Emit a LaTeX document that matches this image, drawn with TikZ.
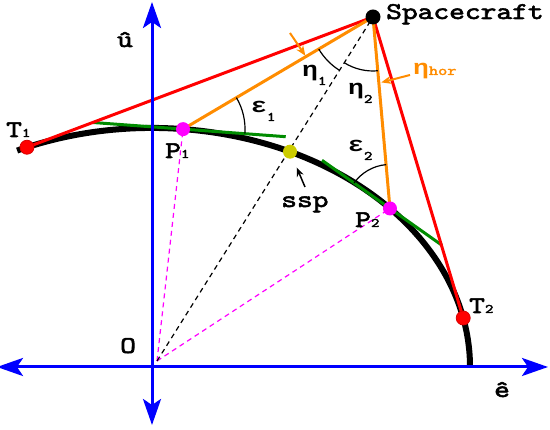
\documentclass[tikz,border=0pt]{standalone}
\usepackage{fontspec}
\usepackage{graphicx}
\usetikzlibrary{calc,arrows.meta}
\newfontfamily\grkfont{Liberation Mono}
\newfontfamily\labfont{lmmono10-regular.otf}[FakeBold=2.2]
\definecolor{orng}{RGB}{255,140,0}
\definecolor{grn}{RGB}{0,140,0}
\definecolor{mag}{RGB}{255,0,255}
\definecolor{olv}{RGB}{204,204,0}
\definecolor{axblue}{RGB}{0,0,255}
\newcommand\lbl[1]{\scalebox{1.25}[1]{\fontsize{24}{24}\selectfont\labfont #1}}
\newcommand\gk[1]{{\grkfont\bfseries\fontsize{21}{21}\selectfont #1}}
\newcommand\subd[1]{{\fontsize{13}{13}\selectfont #1}}
\begin{document}
\begin{tikzpicture}[x=1pt,y=1pt,
  rim/.style={line width=6pt, black},
  tang/.style={line width=3pt, grn},
  los/.style={line width=3pt, red},
  sight/.style={line width=3pt, orng, line join=round},
  dsh/.style={line width=1.2pt, dash pattern=on 5pt off 4pt},
  angarc/.style={line width=1.2pt, black},
  axline/.style={line width=3pt, axblue, {Stealth[length=26pt,width=18pt,inset=6pt]}-{Stealth[length=26pt,width=18pt,inset=6pt]}},
  dotnode/.style={circle, inner sep=0pt, minimum size=14pt},
  lab/.style={inner sep=0pt, anchor=base west},
  pointer/.style={line width=2pt, orng, -{Stealth[length=10pt,width=8pt]}}]
\useasboundingbox (0,0) rectangle (550,430);
% key points
\coordinate (O) at (152,63);
\coordinate (Oc) at (157,69);
\coordinate (S) at (373,413);
\coordinate (C0) at ($(O)+(115.1:318pt and 239pt)$);
\coordinate (T1) at ($(O)+(113.15:318pt and 239pt)$);
\coordinate (P1) at ($(O)+(84.4:318pt and 239pt)$);
\coordinate (SSP) at ($(O)+(64.28:318pt and 239pt)$);
\coordinate (P2) at ($(O)+(41.55:318pt and 239pt)$);
\coordinate (T2) at ($(O)+(11.83:318pt and 239pt)$);
\coordinate (G1a) at (93.27,307.48);
\coordinate (G1b) at (285.73,293.29);
\coordinate (G2a) at (322,269.7);
\coordinate (G2b) at (442,184.7);
% body limb
\draw[rim] (C0) arc[start angle=115.1,end angle=0,x radius=318pt,y radius=239pt];
% tangents
\draw[tang] (G1a) -- (G1b);
\draw[tang] (G2a) -- (G2b);
% dashed lines
\draw[dsh, mag] (Oc) -- (P1);
\draw[dsh, mag] (Oc) -- (P2);
\draw[dsh, black] (Oc) -- (S);
% lines of sight
\draw[los] (T1) -- (S) -- (T2);
\draw[sight] (P1) -- (S) -- (P2);
% angle arcs
\draw[angarc] ($(P1)+(-4.22:62pt)$) arc[start angle=-4.22,end angle=30.56,radius=62pt];
\draw[angarc] ($(P2)+(95.06:44pt)$) arc[start angle=95.06,end angle=144.69,radius=44pt];
\draw[angarc] ($(S)+(210.56:63pt)$) arc[start angle=210.56,end angle=237.87,radius=63pt];
\draw[angarc] ($(S)+(237.87:54pt)$) arc[start angle=237.87,end angle=275.06,radius=54pt];
% axes
\coordinate (xl) at (-3,63);
\coordinate (xr) at (548,63);
\coordinate (yb) at (152,5);
\coordinate (yt) at (152,428);
\draw[axline] (xl) -- (xr);
\draw[axline] (yb) -- (yt);
% dots
\node[dotnode, fill=black, minimum size=15pt] (Sd) at (S) {};
\node[dotnode, fill=red, draw=red!85!black, line width=0.8pt] (T1d) at (T1) {};
\node[dotnode, fill=red, draw=red!85!black, line width=0.8pt] (T2d) at (T2) {};
\node[dotnode, fill=mag] (P1d) at (P1) {};
\node[dotnode, fill=mag] (P2d) at (P2) {};
\node[dotnode, fill=olv] (sspd) at (SSP) {};
% pointers
\coordinate (aA) at (290,397);
\coordinate (aB) at (410,355);
\coordinate (sA) at (305,243);
\draw[pointer, shorten >=1pt] (aA) -- ($(S)!0.353!(P1)$);
\draw[pointer, shorten >=2.5pt] (aB) -- ($(S)!0.345!(P2)$);
\draw[line width=1.5pt, black, -{Stealth[length=9pt,width=7pt]}, shorten >=10pt] (sA) -- (sspd);
% labels
\node[lab] (lS) at (386,411) {\lbl{Spacecraft}};
\node[inner sep=0pt, anchor=base] (lu) at (125,383) {\lbl{û}};
\node[lab] (lT1) at (6,293) {\lbl{T\subd{1}}};
\node[lab] (lP1) at (165,272) {\lbl{P\subd{1}}};
\node[lab] (le1) at (251,317) {\lbl{\gk{ε}\raisebox{-8pt}{\subd{1}}}};
\node[lab] (ln1) at (302,353) {\lbl{\gk{η}\raisebox{-8pt}{\subd{1}}}};
\node[lab] (ln2) at (348,335) {\lbl{\gk{η}\raisebox{-8pt}{\subd{2}}}};
\node[lab, text=orng] (lnh) at (413,355) {\lbl{\gk{η}\fontsize{14}{14}\selectfont hor}};
\node[lab] (le2) at (348,278) {\lbl{\gk{ε}\raisebox{-8pt}{\subd{2}}}};
\node[lab] (lssp) at (281,223) {\lbl{ssp}};
\node[lab] (lP2) at (355,203) {\lbl{P\subd{2}}};
\node[lab] (lT2) at (469,117) {\lbl{T\subd{2}}};
\node[lab] (lO) at (120,77) {\lbl{O}};
\node[lab] (le) at (494,33) {\lbl{ê}};
\end{tikzpicture}
\end{document}
